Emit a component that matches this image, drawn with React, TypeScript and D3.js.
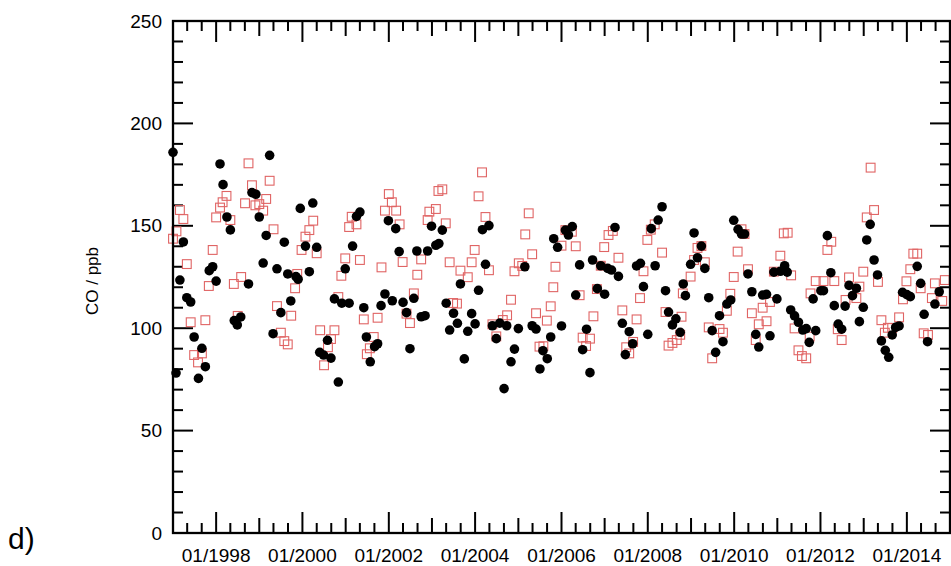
import React from "react";
import * as d3 from "d3";

// Filled-circle series: decimal year, CO mixing ratio (ppb)
const circleTimes = [
  1997.00, 1998.09, 1999.24, 1998.16, 1998.83, 1998.92, 1998.25, 1998.33, 1999.00, 1999.16,
  1999.95, 1999.58, 1997.24, 1999.09, 1999.41, 1999.66, 1999.85, 1999.90, 1997.92, 1997.84,
  1998.00, 1998.75, 1997.16, 1997.32, 1997.41, 1999.73, 1999.50, 1998.57, 1998.42, 1998.49,
  1999.32, 1997.49, 1997.67, 1997.75, 1997.07, 1997.59,
  2000.24, 2001.33, 2001.25, 2001.99, 2002.16, 2000.07, 2000.33, 2001.16, 2002.24, 2002.65,
  2002.90, 2000.16, 2000.99, 2000.74, 2000.91, 2001.08, 2001.42, 2001.91, 2001.82, 2002.08,
  2002.33, 2002.58, 2002.41, 2002.75, 2002.84, 2000.58, 2000.40, 2000.49, 2000.66, 2001.48,
  2001.67, 2001.74, 2001.57, 2002.49, 2000.83,
  2002.99, 2003.24, 2003.09, 2003.16, 2004.17, 2004.32, 2005.82, 2005.91, 2004.24, 2005.15,
  2003.66, 2004.08, 2003.33, 2003.50, 2003.92, 2003.59, 2004.00, 2003.41, 2003.83, 2004.40,
  2004.57, 2004.73, 2005.00, 2005.32, 2005.41, 2004.49, 2005.75, 2004.91, 2005.57, 2005.67,
  2005.50, 2003.75, 2004.83, 2004.67,
  2008.33, 2008.24, 2008.08, 2006.25, 2006.09, 2006.16, 2007.24, 2006.72, 2006.91, 2007.07,
  2007.16, 2007.32, 2006.42, 2007.74, 2007.83, 2008.17, 2007.90, 2008.41, 2008.82, 2008.87,
  2006.33, 2006.83, 2007.00, 2008.48, 2008.65, 2008.57, 2008.75, 2006.00, 2006.58, 2006.49,
  2007.41, 2007.57, 2008.00, 2007.65, 2007.48, 2006.66,
  2009.99, 2010.09, 2010.17, 2010.24, 2009.07, 2009.24, 2009.15, 2008.99, 2009.32, 2010.32,
  2011.17, 2010.92, 2011.07, 2011.23, 2010.41, 2010.66, 2010.75, 2010.99, 2009.41, 2009.92,
  2009.83, 2009.66, 2009.49, 2009.74, 2009.57, 2010.50, 2010.83, 2010.57, 2011.31, 2011.40,
  2011.49, 2011.59, 2011.67, 2011.74, 2011.83,
  2013.15, 2012.16, 2013.07, 2013.24, 2014.24, 2012.24, 2013.32, 2014.32, 2014.75, 2012.01,
  2012.07, 2012.66, 2012.83, 2012.74, 2013.90, 2014.00, 2014.08, 2012.32, 2012.57, 2012.99,
  2014.65, 2014.40, 2012.90, 2012.41, 2012.49, 2011.89, 2013.74, 2013.82, 2013.66, 2013.41,
  2013.50, 2013.58, 2014.48,
];
const circleValues = [
  185.9, 180.2, 184.4, 170.1, 166.2, 165.4, 154.3, 148.0, 154.3, 145.3,
  158.5, 142.0, 142.1, 131.8, 129.0, 126.5, 125.2, 123.9, 130.0, 128.1,
  123.0, 121.6, 123.5, 114.9, 112.8, 113.3, 107.6, 105.5, 103.7, 101.6,
  97.3, 95.7, 90.2, 81.2, 78.1, 75.5,
  161.1, 156.7, 154.6, 152.5, 148.6, 140.1, 139.5, 140.1, 137.4, 137.7,
  137.7, 127.6, 129.0, 114.3, 112.2, 112.2, 110.0, 116.7, 111.0, 113.4,
  112.6, 114.6, 107.6, 105.6, 106.1, 94.1, 88.2, 86.9, 85.4, 95.7,
  91.0, 92.4, 83.6, 90.0, 73.7,
  149.8, 147.9, 140.5, 141.3, 148.1, 150.1, 143.7, 139.5, 131.2, 130.0,
  121.6, 118.5, 112.2, 107.3, 107.1, 102.4, 102.1, 99.1, 98.5, 101.2,
  102.5, 101.2, 99.8, 101.2, 99.6, 94.9, 95.7, 89.8, 89.0, 85.1,
  80.1, 85.0, 83.6, 70.5,
  159.3, 152.8, 148.6, 149.6, 147.9, 145.5, 149.2, 133.3, 130.5, 129.2,
  128.4, 125.3, 130.9, 130.4, 131.7, 130.5, 120.3, 118.3, 121.6, 115.9,
  116.2, 119.3, 116.6, 107.9, 104.6, 101.6, 98.0, 101.1, 99.5, 89.5,
  102.4, 98.3, 97.0, 92.4, 87.1, 78.3,
  152.7, 148.3, 146.0, 146.0, 146.5, 140.1, 134.4, 131.2, 129.2, 126.5,
  130.5, 127.4, 127.8, 127.4, 117.8, 116.2, 116.5, 114.3, 114.9, 113.8,
  111.8, 106.1, 98.8, 93.4, 88.2, 97.0, 96.3, 90.8, 108.9, 106.0,
  102.9, 99.1, 99.8, 93.1, 114.3,
  150.7, 145.2, 143.1, 133.3, 130.2, 127.1, 126.0, 121.9, 117.8, 118.3,
  118.3, 120.9, 119.5, 115.9, 117.5, 116.4, 115.4, 111.0, 110.8, 110.2,
  111.8, 106.8, 103.2, 102.0, 99.5, 98.8, 100.4, 101.1, 96.7, 93.8,
  89.2, 85.8, 93.4,
];

// Open-square series: decimal year, CO mixing ratio (ppb)
const squareTimes = [
  1998.75, 1999.24, 1998.83, 1998.24, 1998.15, 1998.09, 1998.67, 1999.16, 1999.00, 1998.91,
  1999.09, 1998.00, 1998.33, 1997.16, 1997.24, 1999.33, 1997.08, 1997.00, 1997.92, 1999.98,
  1997.32, 1997.83, 1998.58, 1998.41, 1999.83, 1999.88, 1999.41, 1999.74, 1997.41, 1997.75,
  1998.50, 1999.50, 1999.58, 1999.66, 1997.49, 1997.67, 1997.58,
  2002.00, 2002.07, 2001.91, 2002.17, 2000.25, 2000.16, 2000.07, 2000.33, 2001.14, 2001.08,
  2001.25, 2002.25, 2002.94, 2002.90, 2000.99, 2001.33, 2000.90, 2001.83, 2002.32, 2002.75,
  2002.66, 2000.83, 2001.42, 2001.74, 2002.58, 2002.49, 2002.41, 2000.41, 2000.74, 2000.66,
  2000.59, 2000.50, 2001.65, 2001.56, 2001.49,
  2004.16, 2003.24, 2003.15, 2004.08, 2003.09, 2004.24, 2003.32, 2005.24, 2005.16, 2003.99,
  2005.32, 2003.41, 2003.92, 2003.66, 2003.83, 2004.32, 2005.01, 2004.91, 2005.09, 2005.86,
  2005.81, 2003.49, 2003.58, 2004.83, 2004.74, 2004.40, 2004.64, 2005.41, 2005.75, 2005.66,
  2004.49, 2005.49, 2005.58,
  2008.16, 2008.07, 2007.99, 2006.09, 2006.24, 2006.00, 2006.33, 2007.19, 2007.09, 2006.99,
  2008.33, 2007.32, 2006.91, 2007.90, 2006.42, 2006.82, 2007.82, 2008.81, 2008.41, 2008.78,
  2007.41, 2007.74, 2006.74, 2006.49, 2006.66, 2006.57, 2007.66, 2007.50, 2007.57, 2008.48,
  2008.57, 2008.67, 2008.75,
  2010.17, 2010.24, 2011.15, 2011.24, 2009.24, 2009.15, 2010.08, 2009.07, 2009.32, 2011.07,
  2010.32, 2009.99, 2010.92, 2011.32, 2008.99, 2009.91, 2010.83, 2010.66, 2009.83, 2010.41,
  2010.75, 2010.57, 2009.41, 2009.66, 2009.74, 2010.50, 2011.40, 2011.75, 2009.49, 2011.49,
  2011.57, 2011.67,
  2013.16, 2013.24, 2013.07, 2012.25, 2012.16, 2014.15, 2014.24, 2014.08, 2012.99, 2011.89,
  2012.07, 2012.32, 2011.77, 2012.66, 2012.90, 2012.83, 2012.58, 2013.33, 2013.99, 2014.65,
  2014.88, 2014.32, 2014.58, 2014.82, 2013.91, 2013.41, 2013.82, 2013.56, 2013.49, 2013.66,
  2012.40, 2012.49, 2014.39, 2014.49,
];
const squareValues = [
  180.5, 172.0, 169.8, 164.6, 161.5, 158.9, 161.0, 163.1, 160.6, 160.0,
  157.4, 154.1, 152.8, 157.7, 153.3, 148.3, 147.3, 143.7, 138.2, 138.2,
  131.3, 120.6, 125.0, 121.6, 119.5, 126.5, 110.8, 106.1, 102.9, 103.9,
  106.0, 97.8, 93.7, 92.1, 86.9, 87.7, 83.3,
  165.5, 161.5, 157.4, 157.4, 152.5, 147.9, 144.7, 136.6, 154.4, 149.4,
  150.7, 150.7, 156.9, 152.8, 134.1, 133.3, 125.6, 129.7, 132.3, 133.6,
  126.1, 115.2, 104.3, 105.1, 117.0, 102.5, 107.1, 99.0, 99.0, 94.7,
  90.7, 81.9, 95.7, 90.2, 87.3,
  176.1, 167.8, 167.0, 164.4, 158.2, 154.3, 151.2, 156.1, 145.8, 138.2,
  136.1, 132.2, 132.2, 128.1, 124.9, 128.3, 131.7, 127.8, 130.4, 130.0,
  120.0, 112.3, 112.0, 113.9, 106.3, 101.9, 104.0, 107.3, 110.7, 103.7,
  96.0, 91.0, 91.2,
  150.7, 148.1, 143.1, 147.9, 147.1, 140.3, 140.0, 147.5, 145.5, 139.6,
  136.9, 134.4, 130.5, 127.8, 116.1, 119.1, 114.7, 117.0, 107.9, 105.6,
  108.7, 104.3, 105.8, 95.4, 94.9, 91.3, 93.3, 90.7, 87.7, 91.5,
  92.8, 94.2, 96.8,
  148.3, 146.0, 146.3, 146.6, 140.1, 139.2, 137.4, 133.3, 132.2, 135.4,
  128.8, 125.0, 127.6, 125.8, 125.2, 116.8, 112.8, 110.0, 108.5, 107.3,
  103.4, 101.9, 100.4, 99.6, 97.8, 94.2, 99.9, 95.9, 85.3, 89.2,
  86.4, 85.3,
  178.4, 157.7, 154.1, 142.2, 138.2, 136.4, 136.4, 128.8, 127.6, 123.0,
  123.0, 123.0, 117.0, 124.8, 120.3, 114.7, 113.8, 122.6, 122.9, 121.9,
  123.5, 119.5, 114.7, 113.3, 114.1, 103.9, 105.3, 100.2, 97.8, 100.1,
  99.5, 94.2, 97.5, 96.7,
];

const yTickValues = d3.range(0, 251, 10);
const yLabelValues = [0, 50, 100, 150, 200, 250];

const W = 951;
const H = 566;
const M = { left: 173, right: 950, top: 21, bottom: 533 };
const FONT = "'Liberation Sans', Arial, Helvetica, sans-serif";

function toDate(t: number): Date {
  const y = Math.floor(t);
  const a = new Date(y, 0, 1).getTime();
  const b = new Date(y + 1, 0, 1).getTime();
  return new Date(a + (t - y) * (b - a));
}

export default function App() {
  const x = d3
    .scaleTime()
    .domain([new Date(1997, 0, 1), new Date(2015, 0, 1)])
    .range([M.left, M.right]);
  const y = d3.scaleLinear().domain([0, 250]).range([M.bottom, M.top]);

  const monthTicks = x.ticks(d3.timeMonth.every(4) as any);
  const fmt = d3.timeFormat("%m/%Y");

  const tickLen = (d: Date) => {
    if (d.getMonth() !== 0) return 10;
    return d.getFullYear() % 2 === 0 ? 21 : 15;
  };

  const labelTicks = monthTicks.filter(
    (d) => d.getMonth() === 0 && d.getFullYear() % 2 === 0 && d > x.domain()[0] && d < x.domain()[1]
  );

  const sq = 8.8;
  const r = 4.8;

  return (
    <svg
      width={W}
      height={H}
      style={{ position: "absolute", left: 0, top: 0, background: "#fff" }}
      fontFamily={FONT}
    >
      {/* x ticks, top and bottom, pointing inward */}
      <g stroke="#000" strokeWidth={2}>
        {monthTicks.map((d, i) => {
          const px = x(d);
          const len = tickLen(d);
          return (
            <g key={i}>
              <line x1={px} x2={px} y1={M.top} y2={M.top + len} />
              <line x1={px} x2={px} y1={M.bottom} y2={M.bottom - len} />
            </g>
          );
        })}
        {yTickValues.map((v) => {
          const py = y(v);
          const len = v % 50 === 0 ? 20 : 10;
          return (
            <g key={v}>
              <line x1={M.left} x2={M.left + len} y1={py} y2={py} />
              <line x1={M.right} x2={M.right - len} y1={py} y2={py} />
            </g>
          );
        })}
      </g>

      {/* open squares */}
      <g fill="none" stroke="#e06464" strokeWidth={1.1}>
        {squareTimes.map((t, i) => (
          <rect
            key={i}
            x={x(toDate(t)) - sq / 2}
            y={y(squareValues[i]) - sq / 2}
            width={sq}
            height={sq}
          />
        ))}
      </g>

      {/* filled circles */}
      <g fill="#000">
        {circleTimes.map((t, i) => (
          <circle key={i} cx={x(toDate(t))} cy={y(circleValues[i])} r={r} />
        ))}
      </g>

      {/* frame */}
      <rect
        x={M.left}
        y={M.top}
        width={M.right - M.left}
        height={M.bottom - M.top}
        fill="none"
        stroke="#000"
        strokeWidth={2.3}
      />

      {/* y labels */}
      <g fontSize={19} textAnchor="end" fill="#000">
        {yLabelValues.map((v) => (
          <text key={v} x={162} y={y(v)} dy="0.35em">
            {v}
          </text>
        ))}
      </g>

      {/* x labels */}
      <g fontSize={19} textAnchor="middle" fill="#000">
        {labelTicks.map((d, i) => (
          <text key={i} x={x(d)} y={562}>
            {fmt(d)}
          </text>
        ))}
      </g>

      <text
        transform={`translate(98,${(M.top + M.bottom) / 2 + 4}) rotate(-90)`}
        textAnchor="middle"
        fontSize={17}
      >
        CO / ppb
      </text>

      <text x={8} y={549} fontSize={30}>
        d)
      </text>
    </svg>
  );
}
